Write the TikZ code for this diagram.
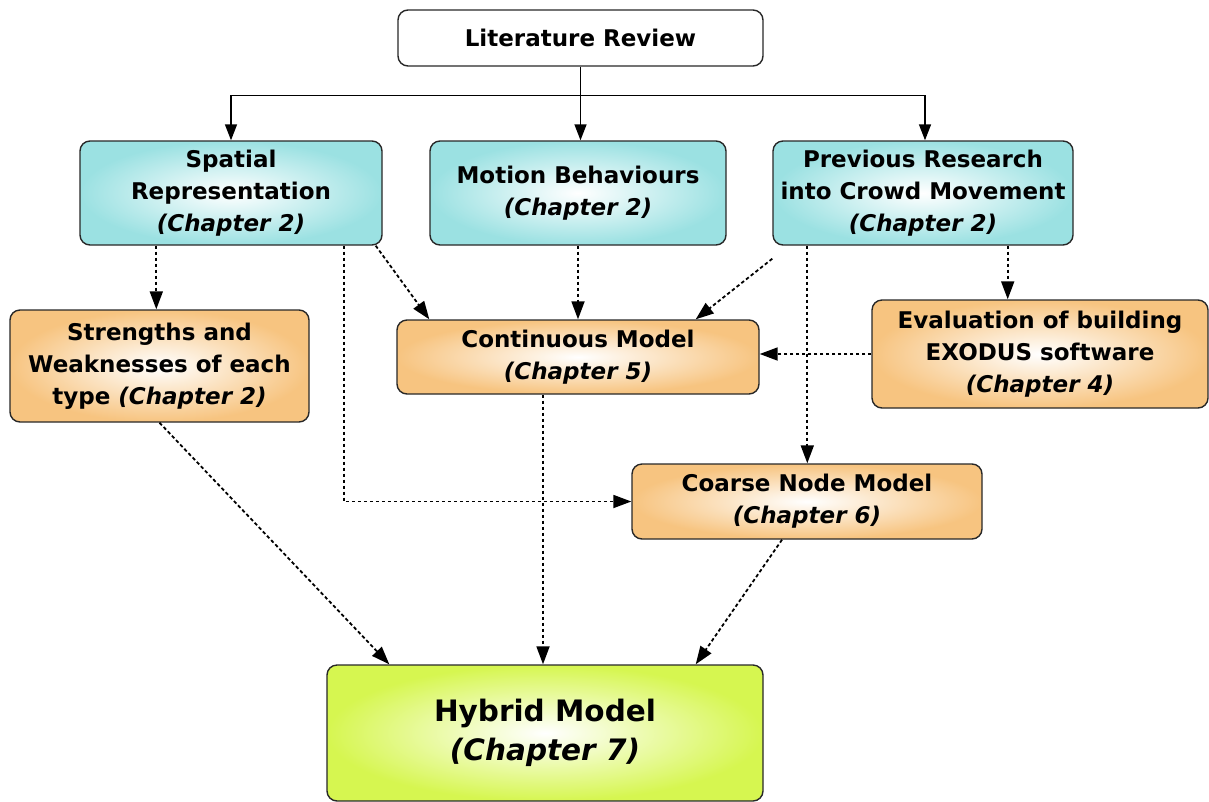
\documentclass[tikz,border=0pt]{standalone}
\usepackage{fontspec}
\setmainfont{DejaVu Sans}
\usetikzlibrary{arrows.meta,calc}
\definecolor{cyanbox}{RGB}{155,225,226}
\definecolor{orangebox}{RGB}{247,196,128}
\definecolor{greenbox}{RGB}{214,246,80}
\definecolor{edge}{RGB}{40,40,40}
\begin{document}
\begin{tikzpicture}[x=1pt,y=-1pt,
  box/.style={draw=edge,line width=1.4pt,rounded corners=10pt,inner sep=0pt,
    align=center,font=\fontsize{23}{32}\selectfont\bfseries},
  bluebox/.style={box,inner color=white,outer color=cyanbox},
  tanbox/.style={box,inner color=white,outer color=orangebox},
  limebox/.style={box,inner color=white,outer color=greenbox,
    font=\fontsize{29.5}{39}\selectfont\bfseries},
  solidarrow/.style={line width=1.5pt,-{Triangle[length=16pt,width=12pt]}},
  dasharrow/.style={line width=1.8pt,dash pattern=on 3.5pt off 2.5pt,
    -{Triangle[length=18pt,width=13pt]}}]
\useasboundingbox (0,0) rectangle (1209,801);

% boxes
\node[box,fill=white,minimum width=365pt,minimum height=56pt] (lit) at (580.5,38) {Literature Review};
\node[bluebox,minimum width=302pt,minimum height=104pt] (sp) at (231,193)
  {Spatial\\Representation\\\textit{(Chapter 2)}};
\node[bluebox,minimum width=296pt,minimum height=104pt] (mo) at (578,193)
  {Motion Behaviours\\\textit{(Chapter 2)}};
\node[bluebox,minimum width=300pt,minimum height=104pt] (pr) at (923,193)
  {Previous Research\\into Crowd Movement\\\textit{(Chapter 2)}};
\node[tanbox,minimum width=299pt,minimum height=112pt] (st) at (159.5,366)
  {Strengths and\\Weaknesses of each\\type \textit{(Chapter 2)}};
\node[tanbox,minimum width=362pt,minimum height=74pt] (co) at (578,357)
  {Continuous Model\\\textit{(Chapter 5)}};
\node[tanbox,minimum width=336pt,minimum height=108pt] (ev) at (1040,354)
  {Evaluation of building\\EXODUS software\\\textit{(Chapter 4)}};
\node[tanbox,minimum width=350pt,minimum height=75pt] (cn) at (807,501.5)
  {Coarse Node Model\\\textit{(Chapter 6)}};
\node[limebox,minimum width=436pt,minimum height=136pt] (hy) at (545,733)
  {Hybrid Model\\\textit{(Chapter 7)}};

% solid tree from the literature review
\coordinate (split) at ($(lit.south)+(0,29)$);
\draw[line width=1.5pt] (lit.south) -- (split);
\draw[solidarrow] (split) -- (split |- mo.north);
\draw[solidarrow] (split) -| (sp.north);
\draw[solidarrow] (split) -| ([xshift=2pt]pr.north);

% dashed dependencies
\draw[dasharrow] ([xshift=77pt]sp.south west) -- ([xshift=77pt]sp.south west |- st.north);
\draw[dasharrow] ([xshift=-7pt]sp.south east) -- ([xshift=33pt]co.north west);
\draw[dasharrow] ([xshift=-39pt]sp.south east) |- (cn.west);
\draw[dasharrow] (mo.south) -- (mo.south |- co.north);
\draw[dasharrow] ([yshift=-13pt]pr.south west) -- ([xshift=-64pt]co.north east);
\draw[dasharrow] ([xshift=-66pt]pr.south east) -- ([xshift=-66pt]pr.south east |- ev.north);
\draw[dasharrow] ([xshift=35pt]pr.south west) -- ([xshift=35pt]pr.south west |- cn.north);
\draw[dasharrow] (ev.west) -- (ev.west -| co.east);
\draw[dasharrow] (st.south) -- ([xshift=63pt]hy.north west);
\draw[dasharrow] ([xshift=-35pt]co.south) -- ([xshift=-35pt]co.south |- hy.north);
\draw[dasharrow] ([xshift=-25pt]cn.south) -- ([xshift=-68pt]hy.north east);
\end{tikzpicture}
\end{document}
